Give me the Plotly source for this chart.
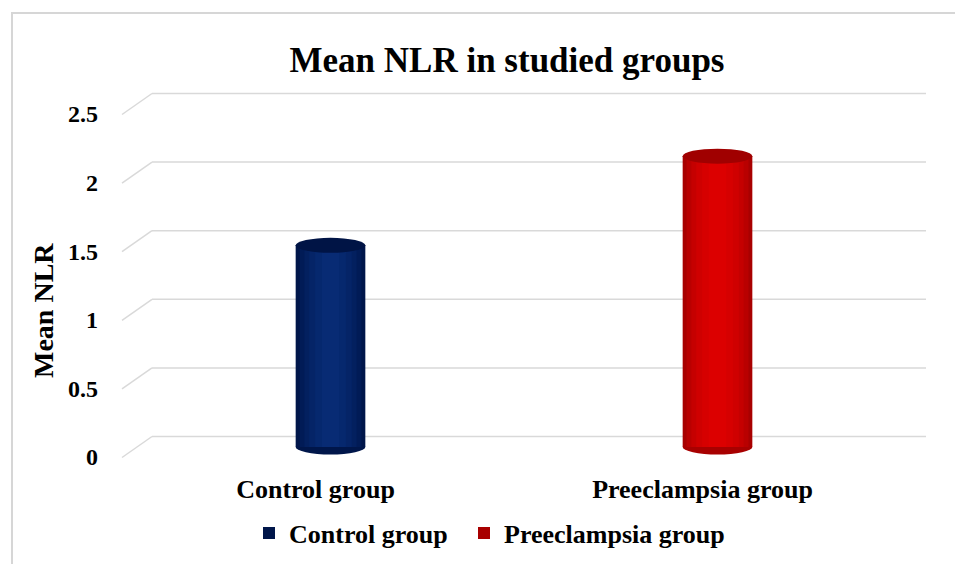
import plotly.graph_objects as go

# ---- data ----
categories = ["Control group", "Preeclampsia group"]
mean_nlr = [1.47, 2.12]
y_ticks = [0, 0.5, 1, 1.5, 2, 2.5]
y_tick_labels = ["0", "0.5", "1", "1.5", "2", "2.5"]

# ---- style ----
FONT = "Liberation Serif, Times New Roman, serif"
W, H = 955, 556            # page body adds an 8px margin
PX_PER_UNIT = 137.2        # vertical scale of the value axis
EXT = 12                   # extra pixels above/below 0..2.5 so perspective lines are not clipped
L, R = 129, 52
T, B = 96 - EXT, 117 - EXT
PW, PH = W - L - R, H - T - B
DX, DY = 15, 10.5          # perspective offset (pixels) between middle plane and back/front planes
BAR_W = 0.18
shade_layers = {
    "Control group": ["#00164a", "#011b56", "#03205f", "#052467", "#06286e", "#082b74"],
    "Preeclampsia group": ["#a80000", "#b90000", "#c50000", "#cf0000", "#d60000", "#dc0000"],
}
layer_widths = [BAR_W, 0.16, 0.135, 0.11, 0.08, 0.045]
top_colors = {"Control group": "#001445", "Preeclampsia group": "#a00000"}
legend_names = {"Control group": "legend", "Preeclampsia group": "legend2"}
legend_text_x = {"Control group": 281, "Preeclampsia group": 496}   # pixel where legend text starts


def paper_x(px):
    return (px - L) / PW


def paper_y(py):
    return (H - B - py) / PH


fig = go.Figure()

# main bars (legend)
for cat, val in zip(categories, mean_nlr):
    fig.add_trace(go.Bar(
        x=[cat], y=[val], name=cat, width=BAR_W,
        marker=dict(color=shade_layers[cat][0], line=dict(width=0)),
        showlegend=True, legend=legend_names[cat],
    ))
# shading layers to suggest the cylinder
for i in range(1, len(layer_widths)):
    for cat, val in zip(categories, mean_nlr):
        fig.add_trace(go.Bar(
            x=[cat], y=[val], width=layer_widths[i],
            marker=dict(color=shade_layers[cat][i], line=dict(width=0)),
            showlegend=False, hoverinfo="skip",
        ))

shapes = []
grid_col = "#d9d9d9"
# chart border
shapes.append(dict(type="rect", xref="paper", yref="paper",
                   x0=paper_x(4), x1=paper_x(W + 20),
                   y0=paper_y(H + 20), y1=paper_y(5),
                   line=dict(color="#d6d6d6", width=2), fillcolor="rgba(0,0,0,0)", layer="below"))
# perspective gridlines
for v in y_ticks:
    shapes.append(dict(type="line", xref="paper", yref="y", ysizemode="pixel", yanchor=v,
                       x0=DX / PW, x1=1 + DX / PW, y0=DY, y1=DY,
                       line=dict(color=grid_col, width=1.5), layer="below"))
    shapes.append(dict(type="line", xref="paper", yref="y", ysizemode="pixel", yanchor=v,
                       x0=-DX / PW, x1=DX / PW, y0=-DY, y1=DY,
                       line=dict(color=grid_col, width=1.5), layer="below"))
# cylinder bottoms and tops
for i, (cat, val) in enumerate(zip(categories, mean_nlr)):
    shapes.append(dict(type="circle", xref="x", yref="y", ysizemode="pixel", yanchor=0,
                       x0=i - BAR_W / 2, x1=i + BAR_W / 2, y0=-7.5, y1=7.5,
                       fillcolor=shade_layers[cat][0], line=dict(width=0), layer="below"))
    shapes.append(dict(type="circle", xref="x", yref="y", ysizemode="pixel", yanchor=val,
                       x0=i - BAR_W / 2, x1=i + BAR_W / 2, y0=-7.5, y1=7.5,
                       fillcolor=top_colors[cat], line=dict(width=0), layer="above"))

legend_common = dict(orientation="h", xanchor="left", yanchor="middle", y=paper_y(525),
                     font=dict(size=26, family=FONT, color="black", weight="bold"),
                     bgcolor="rgba(0,0,0,0)")

fig.update_layout(
    width=W, height=H,
    margin=dict(l=L, r=R, t=T, b=B, autoexpand=False),
    paper_bgcolor="white", plot_bgcolor="rgba(0,0,0,0)",
    barmode="overlay",
    font=dict(family=FONT, color="black"),
    title=dict(text="<b>Mean NLR in studied groups</b>", x=499 / W, xanchor="center",
               xref="container", y=1 - 52 / H, yref="container", yanchor="middle",
               font=dict(size=35, family=FONT, color="black")),
    shapes=shapes,
    showlegend=True,
    legend=dict(x=paper_x(legend_text_x["Control group"] - 40), **legend_common),
    legend2=dict(x=paper_x(legend_text_x["Preeclampsia group"] - 40), **legend_common),
    annotations=[dict(text="<b>Mean NLR</b>", textangle=-90, xref="paper", yref="paper",
                      x=paper_x(35), y=paper_y(303), xanchor="center", yanchor="middle",
                      showarrow=False, font=dict(size=28, family=FONT, color="black"))],
)
fig.update_xaxes(showgrid=False, zeroline=False, showline=False, ticks="",
                 range=[-0.5, 1.5], ticklabelshift=-DX, ticklabelstandoff=24 - EXT,
                 tickfont=dict(size=26, family=FONT, color="black", weight="bold"),
                 fixedrange=True)
fig.update_yaxes(showgrid=False, zeroline=False, showline=False, ticks="",
                 range=[-EXT / PX_PER_UNIT, y_ticks[-1] + EXT / PX_PER_UNIT],
                 tickvals=y_ticks, ticktext=y_tick_labels,
                 ticklabelshift=round(DY), ticklabelstandoff=38,
                 tickfont=dict(size=24, family=FONT, color="black", weight="bold"),
                 fixedrange=True)

fig.write_html("out.html")
